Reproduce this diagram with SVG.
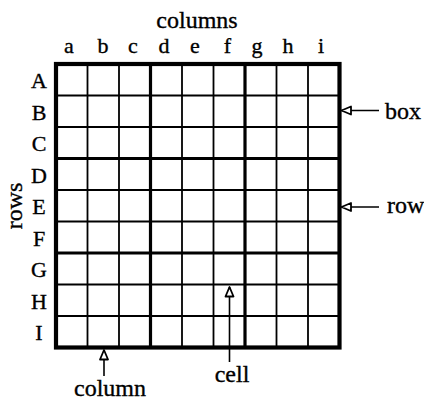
<svg xmlns="http://www.w3.org/2000/svg" width="424" height="403" viewBox="0 0 424 403">
<style>
.t{font-family:"Liberation Serif","Times New Roman",serif;fill:#000;stroke:#000;stroke-width:0.35}
.lab{font-size:24px}
.let{font-size:22px;text-anchor:middle}
.thin{stroke:#000;stroke-width:1.8;fill:none}
.box{stroke:#000;stroke-width:3.2;fill:none}
.outer{stroke:#000;stroke-width:4.2;fill:none}
.arr{stroke:#000;stroke-width:1.6;fill:none;marker-end:url(#hollow)}
</style>
<defs>
<marker id="hollow" markerUnits="userSpaceOnUse" markerWidth="14" markerHeight="12" refX="11" refY="6" orient="auto">
<path d="M1.5,2 L11,6 L1.5,10 Z" fill="#fff" stroke="#000" stroke-width="1.8" stroke-linejoin="round"/>
</marker>
</defs>
<rect width="424" height="403" fill="#fff"/>
<g id="grid">
<path class="thin" d="M87.5,64V347.5M119,64V347.5M182,64V347.5M213.5,64V347.5M276.5,64V347.5M308,64V347.5M56,95.5H339.5M56,127H339.5M56,190H339.5M56,221.5H339.5M56,284.5H339.5M56,316H339.5"/>
<path class="box" d="M150.5,64V347.5M245,64V347.5M56,158.5H339.5M56,253H339.5"/>
<rect class="outer" x="56" y="64" width="283.5" height="283.5"/>
</g>
<g id="column-labels" class="t let">
<text x="69" y="53">a</text>
<text x="103" y="53">b</text>
<text x="133" y="53">c</text>
<text x="164" y="53">d</text>
<text x="195" y="53">e</text>
<text x="227.5" y="53">f</text>
<text x="257" y="53">g</text>
<text x="288" y="53">h</text>
<text x="321" y="53">i</text>
</g>
<g id="row-labels" class="t let">
<text x="39" y="88">A</text>
<text x="39" y="119.5">B</text>
<text x="39" y="151">C</text>
<text x="39" y="182.5">D</text>
<text x="39" y="214">E</text>
<text x="39" y="245.5">F</text>
<text x="39" y="277">G</text>
<text x="39" y="308.5">H</text>
<text x="39" y="340">I</text>
</g>
<g id="title-columns"><text class="t lab" x="197" y="28" text-anchor="middle">columns</text></g>
<g id="title-rows"><text class="t lab" transform="translate(22,206) rotate(-90)" text-anchor="middle">rows</text></g>
<g id="label-box"><text class="t lab" x="385" y="119">box</text></g>
<g id="label-row"><text class="t lab" x="387" y="213">row</text></g>
<g id="label-column"><text class="t lab" x="110" y="396" text-anchor="middle">column</text></g>
<g id="label-cell"><text class="t lab" x="232" y="382" text-anchor="middle">cell</text></g>
<g id="connectors">
<path class="arr" d="M379,110.5H341.5"/>
<path class="arr" d="M379,207H341.5"/>
<path class="arr" d="M104,376V350"/>
<path class="arr" d="M229.5,362V287"/>
</g>
</svg>
